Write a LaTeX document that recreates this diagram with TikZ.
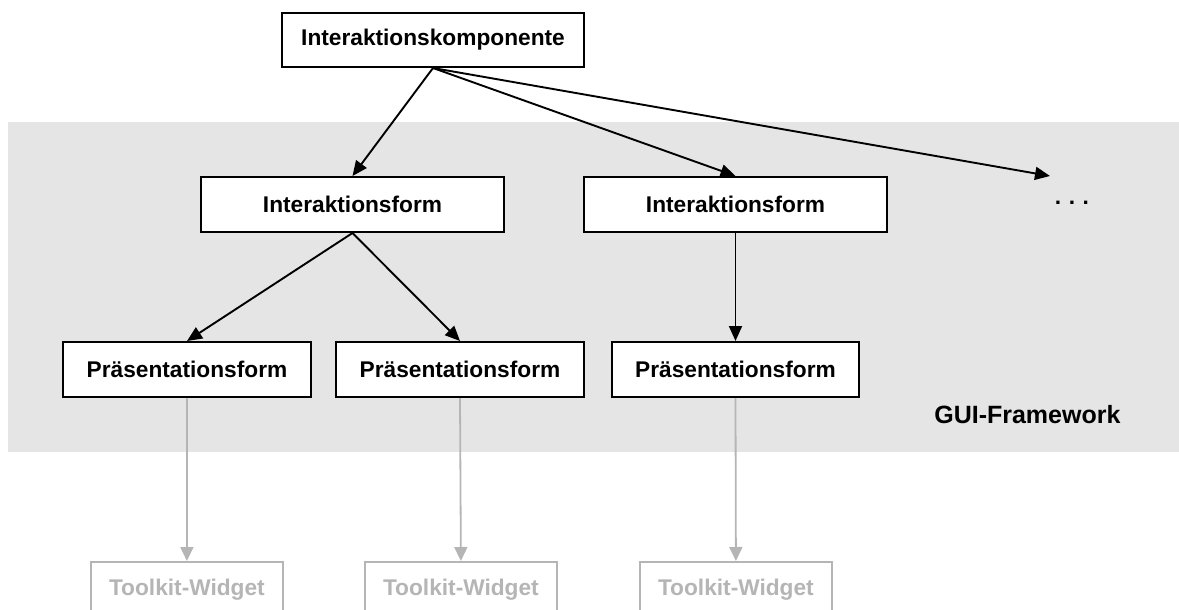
\documentclass[tikz,border=0pt]{standalone}
\usepackage{fontspec}
\setmainfont{Liberation Sans}
\usetikzlibrary{arrows.meta}
\definecolor{bggray}{HTML}{E5E5E5}
\definecolor{tkgray}{HTML}{B5B5B5}
\tikzset{
  box/.style={draw=black, line width=2pt, fill=white, inner sep=0pt, anchor=north west, font=\fontsize{22.7}{27}\selectfont\bfseries},
  tkbox/.style={draw=tkgray, line width=1.8pt, fill=white, inner sep=0pt, anchor=north west, text=tkgray, font=\fontsize{22.7}{27}\selectfont\bfseries},
  conn/.style={line width=1.9pt, -{Triangle[length=15pt,width=13pt]}},
  tkconn/.style={draw=tkgray, line width=1.8pt, -{Triangle[length=14pt,width=13pt]}}
}
\begin{document}
\begin{tikzpicture}[x=1pt,y=-1pt]
\useasboundingbox (0,0) rectangle (1179,610);
\fill[bggray] (8,122) rectangle (1179,452);
% top
\node[box, minimum width=302pt, minimum height=54pt] (ik) at (281,12) {Interaktionskomponente};
% interaction forms
\node[box, minimum width=303pt, minimum height=55pt] (if1) at (200,176) {Interaktionsform};
\node[box, minimum width=303pt, minimum height=55pt] (if2) at (583,176) {Interaktionsform};
\node[font=\fontsize{22.7}{27}\selectfont\bfseries, anchor=base] (dots) at (1072,204) {.\,\,.\,\,.};
\coordinate (more) at (1050,176);
% presentation forms
\node[box, minimum width=248pt, minimum height=55pt] (p1) at (62,341) {Präsentationsform};
\node[box, minimum width=248pt, minimum height=55pt] (p2) at (335,341) {Präsentationsform};
\node[box, minimum width=247pt, minimum height=55pt] (p3) at (611,341) {Präsentationsform};
% toolkit widgets
\node[tkbox, minimum width=192pt, minimum height=56pt] (t1) at (90,561) {Toolkit-Widget};
\node[tkbox, minimum width=192pt, minimum height=56pt] (t2) at (364,561) {Toolkit-Widget};
\node[tkbox, minimum width=192pt, minimum height=56pt] (t3) at (639,561) {Toolkit-Widget};
\node[font=\fontsize{25}{30}\selectfont\bfseries, anchor=base east] (gui) at (1124,423) {GUI-Framework};
% connectors
\draw[conn] (ik.south) -- (if1.north);
\draw[conn] (ik.south) -- (if2.north);
\draw[conn] (ik.south) -- (more);
\draw[conn] (if1.south) -- (p1.north);
\draw[conn] (if1.south) -- (p2.north);
\draw[conn] (if2.south) -- (p3.north);
\draw[tkconn] (p1.south) -- (t1.north);
\draw[tkconn] (p2.south) -- (t2.north);
\draw[tkconn] (p3.south) -- (t3.north);
\end{tikzpicture}
\end{document}
